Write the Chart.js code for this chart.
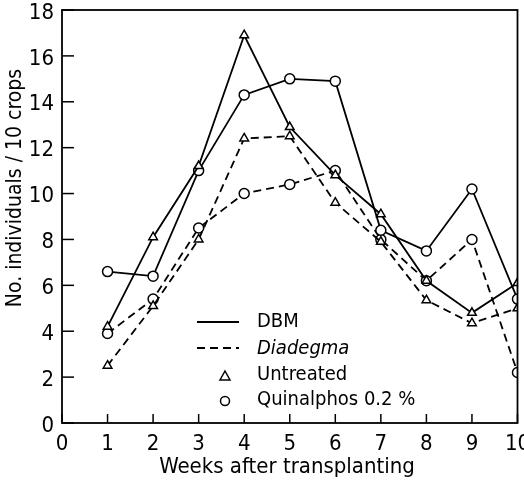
<!DOCTYPE html>
<html>
<head>
<meta charset="utf-8">
<script src="https://cdn.jsdelivr.net/npm/chart.js@4"></script>
<style>
  html, body { margin: 0; padding: 0; background: #fff; }
  #wrap { width: 524px; height: 483px; }
</style>
</head>
<body>
<div id="wrap"><canvas id="chart"></canvas></div>
<script>
// data
const weeks = [1, 2, 3, 4, 5, 6, 7, 8, 9, 10];
const dbmUntreated = [4.2, 8.1, 11.2, 16.9, 12.9, 10.8, 9.1, 6.2, 4.8, 6.1];
const dbmQuinalphos = [6.6, 6.4, 11.0, 14.3, 15.0, 14.9, 8.4, 7.5, 10.2, 5.4];
const diaUntreated = [2.5, 5.1, 8.0, 12.4, 12.5, 9.6, 7.9, 5.35, 4.35, 5.0];
const diaQuinalphos = [3.9, 5.4, 8.5, 10.0, 10.4, 11.0, 8.0, 6.2, 8.0, 2.2];

const xTicks = [0, 1, 2, 3, 4, 5, 6, 7, 8, 9, 10];
const yTicks = [0, 2, 4, 6, 8, 10, 12, 14, 16, 18];

const xTitle = "Weeks after transplanting";
const yTitle = "No. individuals / 10 crops";

const FONT = "'DejaVu Sans Condensed', 'Liberation Sans', sans-serif";

function pts(vals) {
  return weeks.map((w, i) => ({ x: w, y: vals[i] }));
}

function series(label, vals, dashed, marker) {
  return {
    label: label,
    data: pts(vals),
    borderColor: "#000",
    borderWidth: 1.8,
    borderDash: dashed ? [8, 5] : [],
    pointStyle: marker,
    pointRadius: 5,
    pointBackgroundColor: "#fff",
    pointBorderColor: "#000",
    pointBorderWidth: 1.5,
    tension: 0,
  };
}

// frame, inward ticks, axis titles and the legend
const extras = {
  id: "extras",
  afterDraw(chart) {
    const ctx = chart.ctx;
    const a = chart.chartArea;
    const xs = chart.scales.x;
    const ys = chart.scales.y;
    ctx.save();
    ctx.strokeStyle = "#000";
    ctx.lineWidth = 1.8;
    ctx.strokeRect(a.left, a.top, a.right - a.left, a.bottom - a.top);
    ctx.lineWidth = 1.5;
    xTicks.forEach((t) => {
      const px = xs.getPixelForValue(t);
      ctx.beginPath();
      ctx.moveTo(px, a.bottom);
      ctx.lineTo(px, a.bottom - 9);
      ctx.stroke();
    });
    yTicks.forEach((t) => {
      const py = ys.getPixelForValue(t);
      ctx.beginPath();
      ctx.moveTo(a.left, py);
      ctx.lineTo(a.left + 12, py);
      ctx.stroke();
    });

    ctx.fillStyle = "#000";
    ctx.textBaseline = "middle";
    ctx.textAlign = "center";
    ctx.font = "22px " + FONT;
    ctx.fillText(xTitle, 287, 467);
    ctx.save();
    ctx.translate(16, 188);
    ctx.rotate(-Math.PI / 2);
    ctx.font = "21px " + FONT;
    ctx.fillText(yTitle, 0, 0);
    ctx.restore();

    // legend
    const lx = 197, tx = 257;
    ctx.lineWidth = 1.8;
    ctx.beginPath();
    ctx.moveTo(lx, 322);
    ctx.lineTo(lx + 42, 322);
    ctx.stroke();
    ctx.setLineDash([8, 5]);
    ctx.beginPath();
    ctx.moveTo(lx, 348);
    ctx.lineTo(lx + 42, 348);
    ctx.stroke();
    ctx.setLineDash([]);
    ctx.lineWidth = 1.5;
    ctx.beginPath();
    ctx.moveTo(225, 371);
    ctx.lineTo(230, 380);
    ctx.lineTo(220, 380);
    ctx.closePath();
    ctx.stroke();
    ctx.beginPath();
    ctx.arc(225, 401, 4.5, 0, Math.PI * 2);
    ctx.stroke();

    ctx.textAlign = "left";
    ctx.font = "20px " + FONT;
    ctx.fillText("DBM", tx, 322);
    ctx.font = "italic 20px " + FONT;
    ctx.fillText("Diadegma", tx, 349);
    ctx.font = "20px " + FONT;
    ctx.fillText("Untreated", tx, 375);
    ctx.fillText("Quinalphos 0.2 %", tx, 400);
    ctx.restore();
  },
};

new Chart(document.getElementById("chart"), {
  type: "line",
  data: {
    datasets: [
      series("DBM untreated", dbmUntreated, false, "triangle"),
      series("DBM quinalphos", dbmQuinalphos, false, "circle"),
      series("Diadegma untreated", diaUntreated, true, "triangle"),
      series("Diadegma quinalphos", diaQuinalphos, true, "circle"),
    ],
  },
  options: {
    responsive: true,
    maintainAspectRatio: false,
    animation: false,
    layout: { padding: { top: 10, right: 5, left: 0, bottom: 0 } },
    plugins: { legend: { display: false }, tooltip: { enabled: false } },
    scales: {
      x: {
        type: "linear",
        min: 0,
        max: 10,
        afterBuildTicks: (s) => { s.ticks = xTicks.map((v) => ({ value: v })); },
        afterFit: (s) => {
          s.height = 60;
          s.paddingLeft = 0;
          s.paddingRight = 0;
        },
        grid: { display: false, drawTicks: false },
        border: { display: false },
        ticks: { color: "#000", padding: 8, font: { family: FONT, size: 22 } },
      },
      y: {
        min: 0,
        max: 18,
        afterBuildTicks: (s) => { s.ticks = yTicks.map((v) => ({ value: v })); },
        afterFit: (s) => {
          s.width = 62;
          s.paddingTop = 0;
          s.paddingBottom = 0;
        },
        grid: { display: false, drawTicks: false },
        border: { display: false },
        ticks: { color: "#000", padding: 8, labelOffset: 3, font: { family: FONT, size: 22 } },
      },
    },
  },
  plugins: [extras],
});
</script>
</body>
</html>
